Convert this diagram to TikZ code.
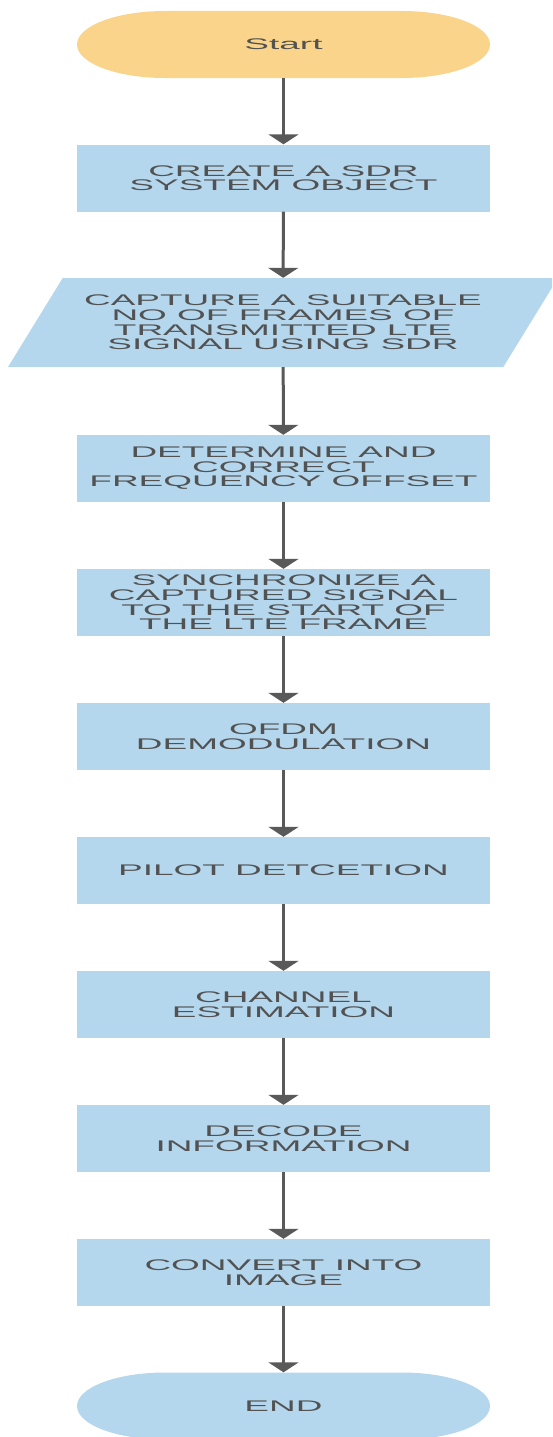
\documentclass[tikz,border=0pt]{standalone}
\usepackage{fontspec}
\newfontfamily\flowfont[FakeStretch=2.4]{Liberation Sans}
\usetikzlibrary{arrows.meta,shapes.geometric}

\definecolor{startfill}{HTML}{F9D48A}
\definecolor{boxfill}{HTML}{B4D7EE}
\definecolor{textgray}{HTML}{525252}
\definecolor{arrowgray}{HTML}{595959}

\begin{document}
\begin{tikzpicture}
 [
  x=1pt, y=-1pt,
  >={Triangle[width=30pt,length=10pt]},
  every node/.style = {font=\flowfont\fontsize{15.4}{14.6}\selectfont, text=textgray, align=center, inner sep=0pt},
  process/.style    = {rectangle, fill=boxfill, minimum width=413pt, minimum height=67pt},
  io/.style         = {trapezium, trapezium left angle=45, trapezium right angle=135, trapezium stretches body=true,
                       fill=boxfill, minimum width=550pt, minimum height=89pt},
  terminal/.style   = {rectangle, minimum width=413pt, minimum height=67pt,
                       path picture = {\fill[#1] ([xshift=88pt]path picture bounding box.north west)
                         -- ([xshift=-88pt]path picture bounding box.north east)
                         arc[start angle=90, end angle=-90, x radius=88pt, y radius=33.5pt]
                         -- ([xshift=88pt]path picture bounding box.south west)
                         arc[start angle=270, end angle=90, x radius=88pt, y radius=33.5pt] -- cycle;}},
  flow/.style       = {->, line width=3pt, draw=arrowgray},
 ]

 \path[use as bounding box, clip] (0,0) rectangle (552,1437);

 % the steps
 \node (start)   at (283.5,44.5)  [terminal=startfill] {Start};
 \node (create)  at (283.5,178)   [process] {CREATE A SDR\\SYSTEM OBJECT};
 \node (capture) at (283,322.5)   [io] {CAPTURE A SUITABLE\\NO OF FRAMES OF\\TRANSMITTED LTE\\SIGNAL USING SDR};
 \node (offset)  at (283.5,468.5) [process] {DETERMINE AND\\CORRECT\\FREQUENCY OFFSET};
 \node (sync)    at (283.5,602.5) [process] {SYNCHRONIZE A\\CAPTURED SIGNAL\\TO THE START OF\\THE LTE FRAME};
 \node (ofdm)    at (283.5,736.5) [process] {OFDM\\DEMODULATION};
 \node (pilot)   at (283.5,870.5) [process] {PILOT DETCETION};
 \node (channel) at (283.5,1004.5) [process] {CHANNEL\\ESTIMATION};
 \node (decode)  at (283.5,1138.5) [process] {DECODE\\INFORMATION};
 \node (convert) at (283.5,1272.5) [process] {CONVERT INTO\\IMAGE};
 \node (end)     at (283.5,1406)  [terminal=boxfill] {END};

 % the arrows
 \draw[flow] (start)   -- (create);
 \draw[flow] (create)  -- (capture);
 \draw[flow] (capture) -- (offset);
 \draw[flow] (offset)  -- (sync);
 \draw[flow] (sync)    -- (ofdm);
 \draw[flow] (ofdm)    -- (pilot);
 \draw[flow] (pilot)   -- (channel);
 \draw[flow] (channel) -- (decode);
 \draw[flow] (decode)  -- (convert);
 \draw[flow] (convert) -- (end);
\end{tikzpicture}
\end{document}
